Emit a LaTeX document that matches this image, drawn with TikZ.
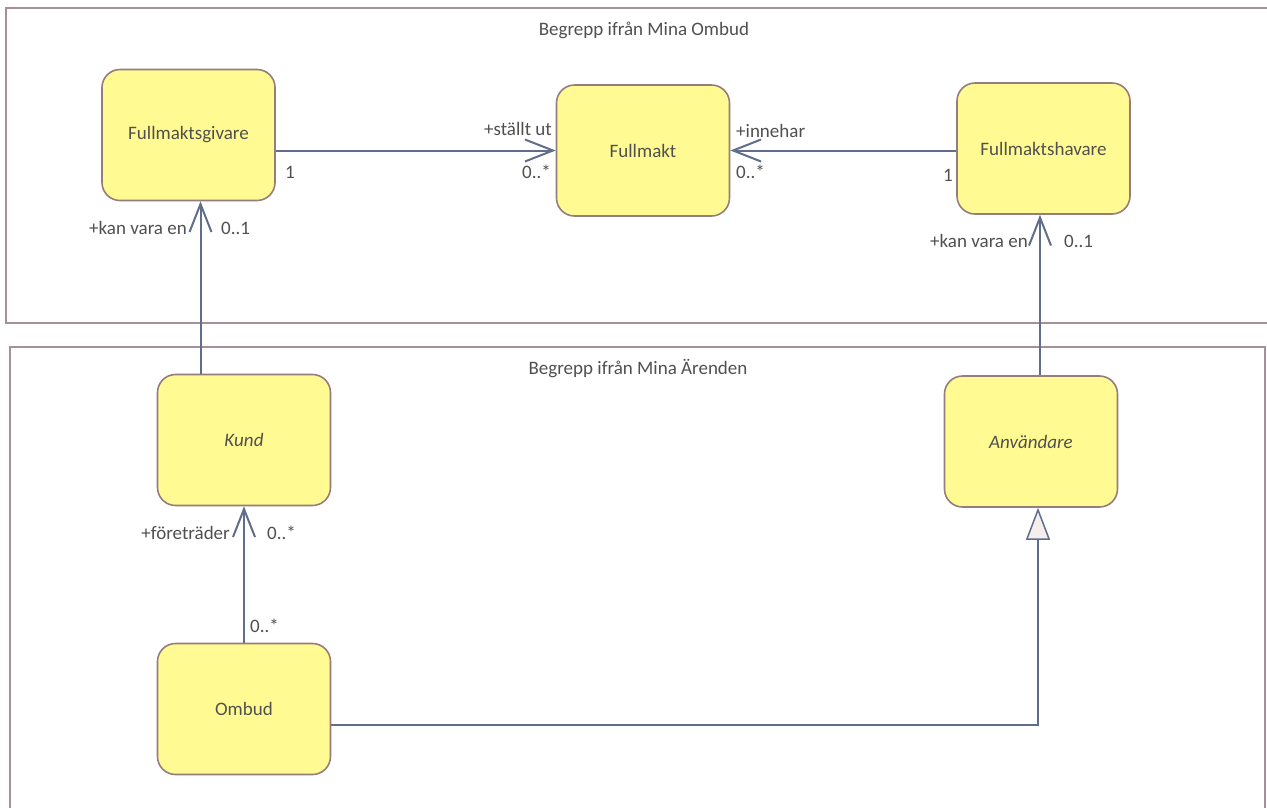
\documentclass[tikz,border=0pt]{standalone}
\usepackage{fontspec}
\setmainfont{Carlito}
\usetikzlibrary{arrows.meta}
\definecolor{txt}{RGB}{80,80,80}
\definecolor{conn}{RGB}{96,110,140}
\definecolor{frm}{RGB}{165,145,148}
\definecolor{nbord}{RGB}{150,125,125}
\definecolor{yl}{RGB}{255,250,145}
\definecolor{ym}{RGB}{255,255,200}
\definecolor{trif}{RGB}{246,238,236}
\tikzset{
  cls/.style={draw=nbord, line width=1.6pt, rounded corners=18pt,
    left color=yl, middle color=ym, right color=yl,
    minimum width=173pt, minimum height=131pt, text=txt, font=\fontsize{19}{22}\selectfont},
  frame/.style={draw=frm, line width=1.8pt},
  assoc/.style={draw=conn, line width=2pt, -{Straight Barb[length=28pt,width=22pt,line width=2pt]}},
  gen/.style={draw=conn, line width=2pt, -{Triangle[open,length=32pt,width=24pt,line width=1.5pt,fill=trif]}},
  lbl/.style={text=txt, font=\fontsize{19}{22}\selectfont, inner sep=0pt},
}
\begin{document}
\begin{tikzpicture}[x=1pt,y=-1pt]
\useasboundingbox (0,0) rectangle (1267,807);
\fill[white] (0,0) rectangle (1267,807);
% frames
\draw[frame] (1290,8) -- (6,8) -- (6,323) -- (1290,323);
\draw[frame] (10,830) -- (10,347) -- (1265,347) -- (1265,830);
\node[lbl] (t1) at (644,30) {Begrepp ifrån Mina Ombud};
\node[lbl] (t2) at (638,369) {Begrepp ifrån Mina Ärenden};
% classes
\node[cls] (giv) at (188.5,135) {Fullmaktsgivare};
\node[cls] (fm) at (643,150.5) {Fullmakt};
\node[cls] (fh) at (1043.5,148.5) {Fullmaktshavare};
\node[cls] (kund) at (244,440) {\itshape Kund};
\node[cls] (anv) at (1031,441.5) {\itshape Användare};
\node[cls] (omb) at (244,709) {Ombud};
% connectors
\draw[assoc] (giv.east |- fm.west) -- (fm.west);
\draw[assoc] (fh.west |- fm.east) -- (fm.east);
\draw[assoc] ([xshift=12pt]giv.south |- kund.north) -- ([xshift=12pt]giv.south);
\draw[assoc] ([xshift=-3.5pt]fh.south |- anv.north) -- ([xshift=-3.5pt]fh.south);
\draw[assoc] (omb.north) -- (kund.south);
\draw[gen] ([yshift=-16pt]omb.east) -| ([xshift=7pt]anv.south);
% labels
\node[lbl, anchor=east] (l1) at (552,129) {+ställt ut};
\node[lbl, anchor=east] (l2) at (551,172) {0..*};
\node[lbl] (l3) at (290,172) {1};
\node[lbl, anchor=west] (l4) at (736,131) {+innehar};
\node[lbl, anchor=west] (l5) at (736,172) {0..*};
\node[lbl] (l6) at (948,175) {1};
\node[lbl, anchor=east] (l7) at (187,228) {+kan vara en};
\node[lbl, anchor=west] (l8) at (221,228) {0..1};
\node[lbl, anchor=east] (l9) at (1028,241) {+kan vara en};
\node[lbl, anchor=west] (l10) at (1064,241) {0..1};
\node[lbl, anchor=east] (l11) at (230,533) {+företräder};
\node[lbl, anchor=west] (l12) at (267,533) {0..*};
\node[lbl, anchor=west] (l13) at (250,626) {0..*};
\end{tikzpicture}
\end{document}
